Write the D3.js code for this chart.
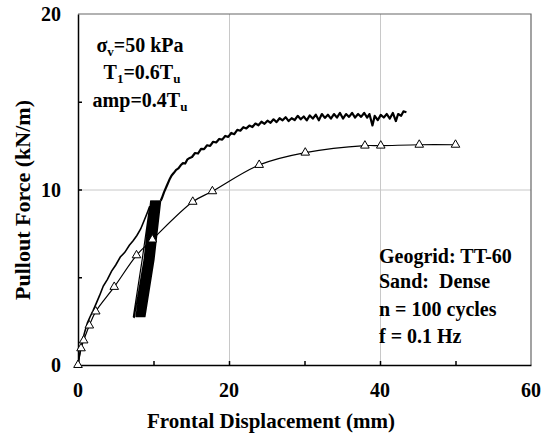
<!DOCTYPE html>
<html>
<head>
<meta charset="utf-8">
<script src="https://cdn.jsdelivr.net/npm/d3@7"></script>
<style>
  body { margin: 0; background: #fff; }
  svg text { font-family: "Liberation Serif", "DejaVu Serif", serif; font-weight: bold; fill: #000; }
</style>
</head>
<body>
<svg id="chart" width="547" height="441"></svg>
<script>
// tick values
const xLabelTicks = [0, 20, 40, 60];
const yLabelTicks = [0, 10, 20];
const xMinorTicks = [10, 20, 30, 40, 50];
const yMinorTicks = [5, 10, 15];
const xGrid = [20, 40];
const yGrid = [10];

// monotonic pullout test (open triangles)
const monotonic = [
  [0, 0], [0.4, 0.95], [0.75, 1.4], [1.5, 2.25], [2.35, 3.05], [4.8, 4.45],
  [7.75, 6.25], [9.85, 7.15], [15.2, 9.3], [17.8, 9.9], [24.0, 11.4],
  [30.1, 12.1], [38.0, 12.5], [40.1, 12.5], [45.2, 12.55], [50.0, 12.55]
];

// cyclic test: loading before the cycles
const preCycle = [
  [0, 0], [0.15, 0.4], [0.35, 0.9], [0.6, 1.4], [0.9, 1.9], [1.25, 2.4], [1.6, 2.75],
  [2.0, 3.1], [2.4, 3.5], [2.85, 3.95], [3.35, 4.5], [3.9, 4.88], [4.45, 5.35],
  [5.0, 5.7], [5.6, 6.15], [6.2, 6.42], [6.8, 6.82], [7.3, 7.08], [7.8, 7.38],
  [8.3, 7.75], [8.75, 8.22], [9.15, 8.65], [9.5, 9.05]
];

// cyclic test: load/unload reversal points (sampled cycles of the 100)
const loopPts = [
  [9.5, 9.05], [8.5, 6.0], [7.33, 2.75], [7.45, 2.7],
  [8.75, 6.0], [9.63, 9.35], [8.78, 6.0],
  [7.67, 2.75], [8.87, 6.0], [9.75, 9.35], [8.9, 6.0],
  [7.79, 2.75], [8.99, 6.0], [9.87, 9.35], [9.02, 6.0],
  [7.91, 2.75], [9.11, 6.0], [9.99, 9.35], [9.14, 6.0],
  [8.03, 2.75], [9.23, 6.0], [10.11, 9.35], [9.26, 6.0],
  [8.15, 2.75], [9.35, 6.0], [10.23, 9.35], [9.38, 6.0],
  [8.27, 2.75], [9.47, 6.0], [10.35, 9.35], [9.5, 6.0],
  [8.39, 2.75], [9.59, 6.0], [10.47, 9.35], [9.62, 6.0],
  [8.51, 2.75], [9.71, 6.0], [10.59, 9.35], [9.74, 6.0],
  [8.63, 2.75], [9.83, 6.0], [10.71, 9.35], [9.86, 6.0],
  [8.75, 2.75], [9.95, 6.0], [10.83, 9.35], [9.98, 6.0],
  [8.87, 2.75], [10.07, 6.0], [10.95, 9.35]
];

// cyclic test: loading after the cycles
const postCycle = [
  [10.95, 9.35], [11.1, 9.5], [11.4, 9.85], [11.75, 10.2], [12.1, 10.55], [12.4, 10.8],
  [12.7, 10.95], [13.0, 11.12], [13.3, 11.2], [13.6, 11.38], [13.9, 11.5], [14.2, 11.48],
  [14.5, 11.72], [14.8, 11.8], [15.1, 11.85], [15.5, 12.08], [15.9, 12.05], [16.3, 12.32],
  [16.7, 12.3], [17.1, 12.52], [17.5, 12.48], [17.9, 12.72], [18.3, 12.68], [18.7, 12.88],
  [19.1, 12.84], [19.5, 13.05], [19.9, 13.0], [20.3, 13.22], [20.7, 13.15], [21.1, 13.4],
  [21.5, 13.35], [21.9, 13.55], [22.3, 13.48], [22.7, 13.64], [23.1, 13.56], [23.5, 13.76],
  [23.9, 13.66], [24.3, 13.86], [24.7, 13.74], [25.1, 13.92], [25.5, 13.8], [25.9, 14.0],
  [26.3, 13.84], [26.7, 14.06], [27.1, 13.94], [27.5, 14.12], [27.9, 13.9], [28.3, 14.06],
  [28.7, 13.96], [29.1, 14.2], [29.5, 14.0], [29.9, 14.16], [30.3, 13.94], [30.7, 14.22],
  [31.1, 14.04], [31.5, 14.26], [31.9, 13.94], [32.3, 14.3], [32.7, 14.08], [33.1, 14.26],
  [33.5, 14.04], [33.9, 14.3], [34.3, 14.1], [34.7, 14.36], [35.1, 14.04], [35.5, 14.3],
  [35.9, 14.14], [36.3, 14.36], [36.7, 14.1], [37.1, 14.3], [37.5, 14.14], [37.9, 14.36],
  [38.3, 14.1], [38.6, 14.3], [39.0, 13.65], [39.3, 14.2], [39.7, 13.95], [40.1, 14.25],
  [40.5, 14.1], [40.9, 14.3], [41.3, 14.04], [41.7, 14.36], [42.1, 13.9], [42.4, 14.3],
  [42.8, 14.2], [43.1, 14.45], [43.5, 14.4]
];

const svg = d3.select("#chart");
const x = d3.scaleLinear().domain([0, 60]).range([78, 531]);
const y = d3.scaleLinear().domain([0, 20]).range([365, 14]);

// gridlines
svg.append("g")
  .attr("transform", "translate(0,365)")
  .call(d3.axisBottom(x).tickValues(xGrid).tickSize(-351).tickFormat(""))
  .call(g => g.select(".domain").remove())
  .call(g => g.selectAll("line").attr("stroke", "#c8c8c8"));
svg.append("g")
  .attr("transform", "translate(78,0)")
  .call(d3.axisLeft(y).tickValues(yGrid).tickSize(-453).tickFormat(""))
  .call(g => g.select(".domain").remove())
  .call(g => g.selectAll("line").attr("stroke", "#c8c8c8"));

// frame top/right
svg.append("path")
  .attr("d", `M78,${y(20)}H${x(60)}V365`)
  .attr("fill", "none").attr("stroke", "#666").attr("stroke-width", 1.2);

// axes with inward ticks
svg.append("g")
  .attr("transform", "translate(0,365)")
  .call(d3.axisBottom(x).tickValues(xMinorTicks).tickSize(-4).tickFormat("").tickSizeOuter(0))
  .call(g => g.selectAll("line,path").attr("stroke", "#000").attr("stroke-width", 1.5));
svg.append("g")
  .attr("transform", "translate(78,0)")
  .call(d3.axisLeft(y).tickValues(yMinorTicks).tickSize(-4).tickFormat("").tickSizeOuter(0))
  .call(g => g.selectAll("line,path").attr("stroke", "#000").attr("stroke-width", 1.5));

// tick labels
svg.append("g").selectAll("text").data(xLabelTicks).join("text")
  .attr("x", d => x(d)).attr("y", 397)
  .attr("text-anchor", "middle").attr("font-size", 20)
  .text(d => d);
svg.append("g").selectAll("text").data(yLabelTicks).join("text")
  .attr("x", 61).attr("y", d => y(d) + 7)
  .attr("text-anchor", "end").attr("font-size", 20)
  .text(d => d);

// axis titles
svg.append("text")
  .attr("x", 271).attr("y", 428)
  .attr("text-anchor", "middle").attr("font-size", 21)
  .text("Frontal Displacement (mm)");
svg.append("text")
  .attr("transform", "translate(30,200) rotate(-90)")
  .attr("text-anchor", "middle").attr("font-size", 22)
  .text("Pullout Force (kN/m)");

// series
const line = d3.line().x(d => x(d[0])).y(d => y(d[1]));
svg.append("path")
  .attr("d", line.curve(d3.curveCatmullRom)(monotonic))
  .attr("fill", "none").attr("stroke", "#000").attr("stroke-width", 1.2);
line.curve(d3.curveLinear);
svg.append("path").datum(preCycle)
  .attr("d", line)
  .attr("fill", "none").attr("stroke", "#000").attr("stroke-width", 1.6);
svg.append("path").datum(loopPts)
  .attr("d", line)
  .attr("fill", "none").attr("stroke", "#000").attr("stroke-width", 1.2)
  .attr("stroke-linejoin", "round");
svg.append("path").datum(postCycle)
  .attr("d", line)
  .attr("fill", "none").attr("stroke", "#000").attr("stroke-width", 2.2)
  .attr("stroke-linejoin", "round");

svg.append("g").selectAll("path").data(monotonic).join("path")
  .attr("transform", d => `translate(${x(d[0])},${y(d[1])})`)
  .attr("d", d3.symbol(d3.symbolTriangle, 32))
  .attr("fill", "#fff").attr("stroke", "#000").attr("stroke-width", 1);

// annotations
const ann = svg.append("g").attr("font-size", 20);

const sig = ann.append("text").attr("x", 140).attr("y", 52).attr("text-anchor", "middle");
sig.append("tspan").text("σ");
sig.append("tspan").attr("font-size", 13).attr("dy", 4).text("v");
sig.append("tspan").attr("dy", -4).text("=50 kPa");

const t1 = ann.append("text").attr("x", 142).attr("y", 79).attr("text-anchor", "middle");
t1.append("tspan").text("T");
t1.append("tspan").attr("font-size", 13).attr("dy", 4).text("1");
t1.append("tspan").attr("dy", -4).text("=0.6T");
t1.append("tspan").attr("font-size", 13).attr("dy", 4).text("u");

const amp = ann.append("text").attr("x", 140).attr("y", 107).attr("text-anchor", "middle");
amp.append("tspan").text("amp=0.4T");
amp.append("tspan").attr("font-size", 13).attr("dy", 4).text("u");

const notes = ["Geogrid: TT-60", "Sand:  Dense", "n = 100 cycles", "f = 0.1 Hz"];
const noteY = [263, 288, 316, 343];
ann.append("g").selectAll("text").data(notes).join("text")
  .attr("x", 379).attr("y", (d, i) => noteY[i])
  .style("white-space", "pre")
  .text(d => d);
</script>
</body>
</html>
